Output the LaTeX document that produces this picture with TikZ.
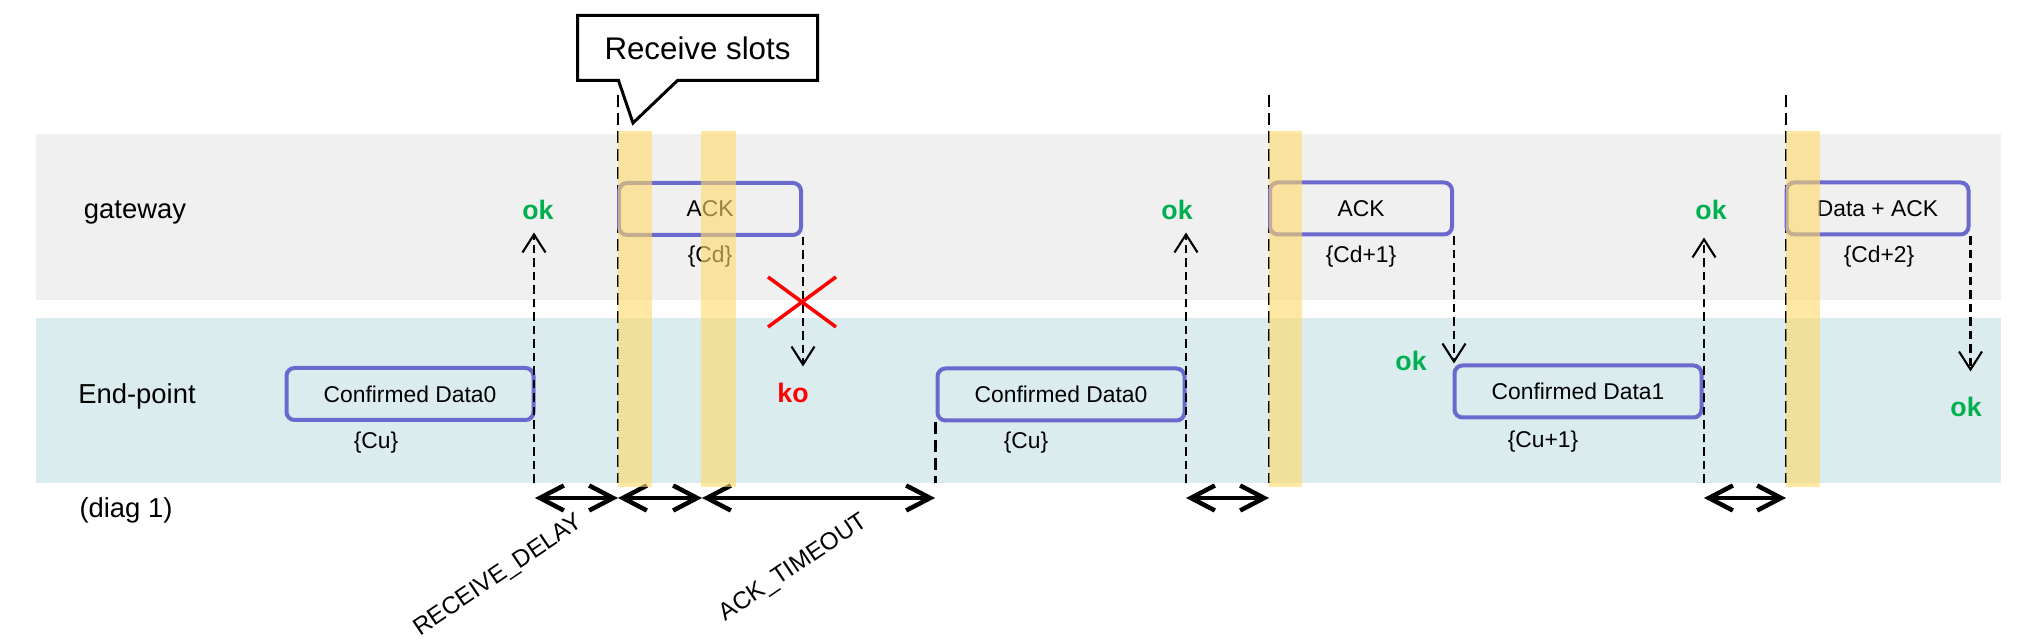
\documentclass[tikz,border=0pt]{standalone}
\usepackage{fontspec}
\setmainfont{Liberation Sans}
\usetikzlibrary{arrows.meta,calc}
\definecolor{gwgray}{RGB}{240,240,240}
\definecolor{epteal}{RGB}{219,236,238}
\definecolor{slotyellow}{RGB}{255,217,102}
\definecolor{msgblue}{RGB}{106,106,206}
\definecolor{okgreen}{RGB}{0,176,80}
\tikzset{
  msgbox/.style  ={rectangle, rounded corners=0.8mm, draw=msgblue, line width=0.4mm,
                   minimum height=5.2mm, inner sep=0pt, font=\fontsize{6.5}{7}\selectfont},
  gwmsg/.style   ={msgbox, minimum width=18.2mm},
  epmsg/.style   ={msgbox, minimum width=24.7mm},
  seqno/.style   ={inner sep=0pt, font=\fontsize{6.5}{7}\selectfont},
  lanelbl/.style ={inner sep=0pt, font=\fontsize{7.8}{9}\selectfont},
  okmark/.style  ={inner sep=0.2mm, text=okgreen, font=\bfseries\fontsize{7.6}{9}\selectfont},
  komark/.style  ={okmark, text=red},
  slotline/.style={line width=0.27mm, dash pattern=on 1.2mm off 0.6mm},
  okflow/.style  ={line width=0.21mm, dash pattern=on 0.85mm off 0.5mm,
                   -{Straight Barb[length=1.8mm,width=2.3mm]}},
  span/.style    ={line width=0.45mm, {Straight Barb[length=2.4mm,width=2.5mm]}-{Straight Barb[length=2.4mm,width=2.5mm]}},
  slotbar/.style ={fill=slotyellow, fill opacity=0.6},
  lostmark/.style={draw=red, line width=0.35mm},
  delaylbl/.style={inner sep=0pt, rotate=34, font=\fontsize{6.9}{8}\selectfont},
  slotnote/.style={inner sep=0pt, outer sep=0pt, minimum width=24mm, minimum height=6.5mm,
                   font=\fontsize{8.9}{10}\selectfont},
  calloutline/.style={draw=black, line width=0.3mm, line join=miter}
}
\begin{document}
\begin{tikzpicture}[x=0.1mm,y=-0.1mm]
  \useasboundingbox (0,0) rectangle (2033,641);
  % ---------------- lanes ----------------
  \fill[gwgray] (36,134) rectangle (2001,300);
  \fill[epteal] (36,318) rectangle (2001,483);
  \node[lanelbl] (gw)   at (135,212) {gateway};
  \node[lanelbl] (ep)   at (137,396) {End-point};
  \node[lanelbl] (diag) at (126,510) {(diag 1)};

  % ---------------- slot marks ----------------
  \coordinate (s1top) at (618,95);   \coordinate (s1bot) at (618,483);
  \coordinate (s2top) at (1269,95);  \coordinate (s2bot) at (1269,483);
  \coordinate (s3top) at (1786,95);  \coordinate (s3bot) at (1786,483);
  \draw[slotline] (s1top) -- (s1bot);
  \draw[slotline] (s2top) -- (s2bot);
  \draw[slotline] (s3top) -- (s3bot);

  % ---------------- messages ----------------
  \node[epmsg] (up0)  at (410,394)      {Confirmed Data0};
  \node[gwmsg] (dn0)  at (710,209)      {ACK};
  \node[epmsg] (up0r) at (1061,394.5)   {Confirmed Data0};
  \node[gwmsg] (dn1)  at (1361,208.5)   {ACK};
  \node[epmsg] (up1)  at (1578,391.5)   {Confirmed Data1};
  \node[gwmsg] (dn2)  at (1877.5,208.5) {Data + ACK};

  \node[seqno] (cu0)  at (376,443)  {\{Cu\}};
  \node[seqno] (cd0)  at (710,257)  {\{Cd\}};
  \node[seqno] (cu0r) at (1026,443) {\{Cu\}};
  \node[seqno] (cd1)  at (1361,257) {\{Cd+1\}};
  \node[seqno] (cu1)  at (1543,442) {\{Cu+1\}};
  \node[seqno] (cd2)  at (1879,257) {\{Cd+2\}};

  % ---------------- outcomes ----------------
  \node[okmark] (ok1) at (538,210)  {ok};
  \node[komark] (ko1) at (793,393)  {ko};
  \node[okmark] (ok2) at (1177,210) {ok};
  \node[okmark] (ok3) at (1411,361) {ok};
  \node[okmark] (ok4) at (1711,210) {ok};
  \node[okmark] (ok5) at (1966,407) {ok};

  \coordinate (u0) at (534,483);
  \coordinate (u1) at (1186,483);
  \coordinate (u2) at (1704,483);
  \draw[okflow, shorten >=1mm]   (u0) -- (u0 |- ok1.south);
  \draw[okflow, shorten >=1mm]   (u1) -- (u1 |- ok2.south);
  \draw[okflow, shorten >=1.5mm] (u2) -- (u2 |- ok4.south);
  \draw[slotline] (up0r.south west) -- (up0r.south west |- s1bot);

  \draw[okflow, shorten >=1.4mm] (dn0.south east) -- (dn0.south east |- ko1.north);
  \draw[okflow] (dn1.south east) -- (dn1.south east |- up1.north);
  \draw[okflow, shorten >=2.3mm] (dn2.south east) -- (dn2.south east |- ok5.north);

  % lost downlink
  \coordinate (lost) at (802,302);
  \draw[lostmark] ($(lost)+(-34,-25)$) -- ($(lost)+(34,25)$)
                  ($(lost)+(-34,25)$) -- ($(lost)+(34,-25)$);

  % ---------------- delays ----------------
  \coordinate (w1) at (535,498);
  \coordinate (w2) at (618,498);
  \coordinate (w3) at (702,498);
  \coordinate (w4) at (935,498);
  \coordinate (w5) at (1186,498);
  \coordinate (w6) at (1269,498);
  \coordinate (w7) at (1704,498);
  \coordinate (w8) at (1786,498);
  \draw[span] (w1) -- (w2);
  \draw[span] (w2) -- (w3);
  \draw[span] (w3) -- (w4);
  \draw[span] (w5) -- (w6);
  \draw[span] (w7) -- (w8);
  \node[delaylbl] (rxdelay) at (499,576) {RECEIVE\_DELAY};
  \node[delaylbl] (acktime) at (794,568) {ACK\_TIMEOUT};

  % ---------------- receive slots ----------------
  \fill[slotbar] (618,131) rectangle (652,487);
  \fill[slotbar] (701,131) rectangle (736,487);
  \fill[slotbar] (1269,131) rectangle (1302,487);
  \fill[slotbar] (1786,131) rectangle (1820,487);

  \node[slotnote] (slots) at (697.5,48) {Receive slots};
  \coordinate (slottip) at (633,123);
  \draw[calloutline] (slots.north west) -- (slots.north east) -- (slots.south east)
    -- ($(slots.south west)+(100,0)$) -- (slottip) -- ($(slots.south west)+(41,0)$)
    -- (slots.south west) -- cycle;
\end{tikzpicture}
\end{document}
